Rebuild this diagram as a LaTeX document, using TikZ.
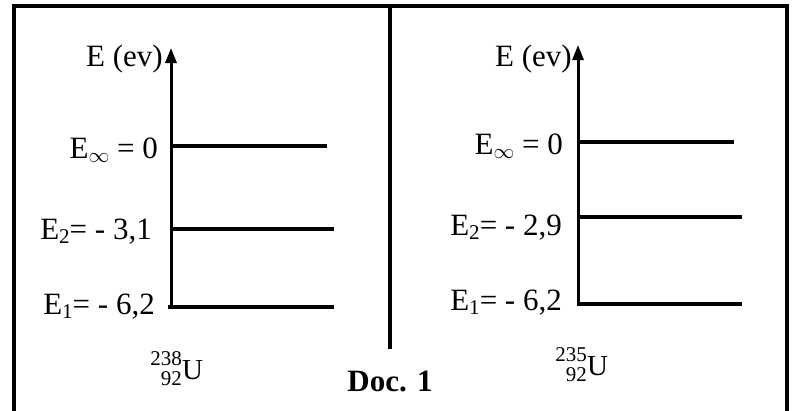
\documentclass[tikz,border=0pt]{standalone}
\usepackage{fontspec}
\setmainfont{Liberation Serif}
\usetikzlibrary{arrows.meta}
\newcommand{\lowsub}[1]{\raisebox{-4.5pt}{\fontsize{21}{21}\selectfont #1}}
\tikzset{
  lbl/.style={inner sep=0pt, font=\fontsize{31}{33}\selectfont},
  nuc/.style={inner sep=0pt, font=\fontsize{21}{22}\selectfont},
  nucU/.style={inner sep=0pt, font=\fontsize{29}{30}\selectfont},
  axisline/.style={line width=3pt, -{Triangle[length=15pt,width=11pt]}},
  level/.style={line width=3.2pt},
  frameline/.style={line width=3.5pt},
}
\begin{document}
\begin{tikzpicture}[x=1pt,y=-1pt]
\useasboundingbox (0,0) rectangle (792,410);
% frame
\coordinate (fBL) at (14,420);
\coordinate (fTL) at (14,6);
\coordinate (fTR) at (787,6);
\coordinate (fBR) at (787,420);
\draw[frameline] (fBL) -- (fTL) -- (fTR) -- (fBR);
\coordinate (mTop) at (390,6);
\coordinate (mBot) at (390,349);
\draw[frameline] (mTop) -- (mBot);

% left diagram
\coordinate (aLbot) at (171,308.6);
\coordinate (aLtop) at (171,48);
\draw[axisline] (aLbot) -- (aLtop);
\coordinate (lInfA) at (171,146);
\coordinate (lInfB) at (327,146);
\coordinate (l2A) at (171,229);
\coordinate (l2B) at (334,229);
\coordinate (l1A) at (168,307);
\coordinate (l1B) at (334,307);
\draw[level] (lInfA) -- (lInfB);
\draw[level] (l2A) -- (l2B);
\draw[level] (l1A) -- (l1B);
\node[lbl, anchor=base east] (eL) at (163,66) {E (ev)};
\node[lbl, anchor=base east] (infL) at (158,158) {E\lowsub{$\infty$} = 0};
\node[lbl, anchor=base east] (e2L) at (152,239) {E\lowsub{2}= - 3,1};
\node[lbl, anchor=base east] (e1L) at (155,314) {E\lowsub{1}= - 6,2};
\node[nuc, anchor=base east] (massL) at (182,365) {238};
\node[nuc, anchor=base east] (zL) at (182,385) {92};
\node[nucU, anchor=base west] (uL) at (182,379) {U};

% right diagram
\coordinate (aRbot) at (578,305.6);
\coordinate (aRtop) at (578,45);
\draw[axisline] (aRbot) -- (aRtop);
\coordinate (rInfA) at (578,142);
\coordinate (rInfB) at (734,142);
\coordinate (r2A) at (578,217);
\coordinate (r2B) at (742,217);
\coordinate (r1A) at (577,304);
\coordinate (r1B) at (742,304);
\draw[level] (rInfA) -- (rInfB);
\draw[level] (r2A) -- (r2B);
\draw[level] (r1A) -- (r1B);
\node[lbl, anchor=base east] (eR) at (572,66) {E (ev)};
\node[lbl, anchor=base east] (infR) at (563,154) {E\lowsub{$\infty$} = 0};
\node[lbl, anchor=base east] (e2R) at (562,235) {E\lowsub{2}= - 2,9};
\node[lbl, anchor=base east] (e1R) at (562,310) {E\lowsub{1}= - 6,2};
\node[nuc, anchor=base east] (massR) at (587,361) {235};
\node[nuc, anchor=base east] (zR) at (587,381) {92};
\node[nucU, anchor=base west] (uR) at (587,375) {U};

% caption
\node[inner sep=0pt, anchor=base, font=\bfseries\fontsize{31}{33}\selectfont] (doc) at (390,391) {Doc. 1};
\end{tikzpicture}
\end{document}
